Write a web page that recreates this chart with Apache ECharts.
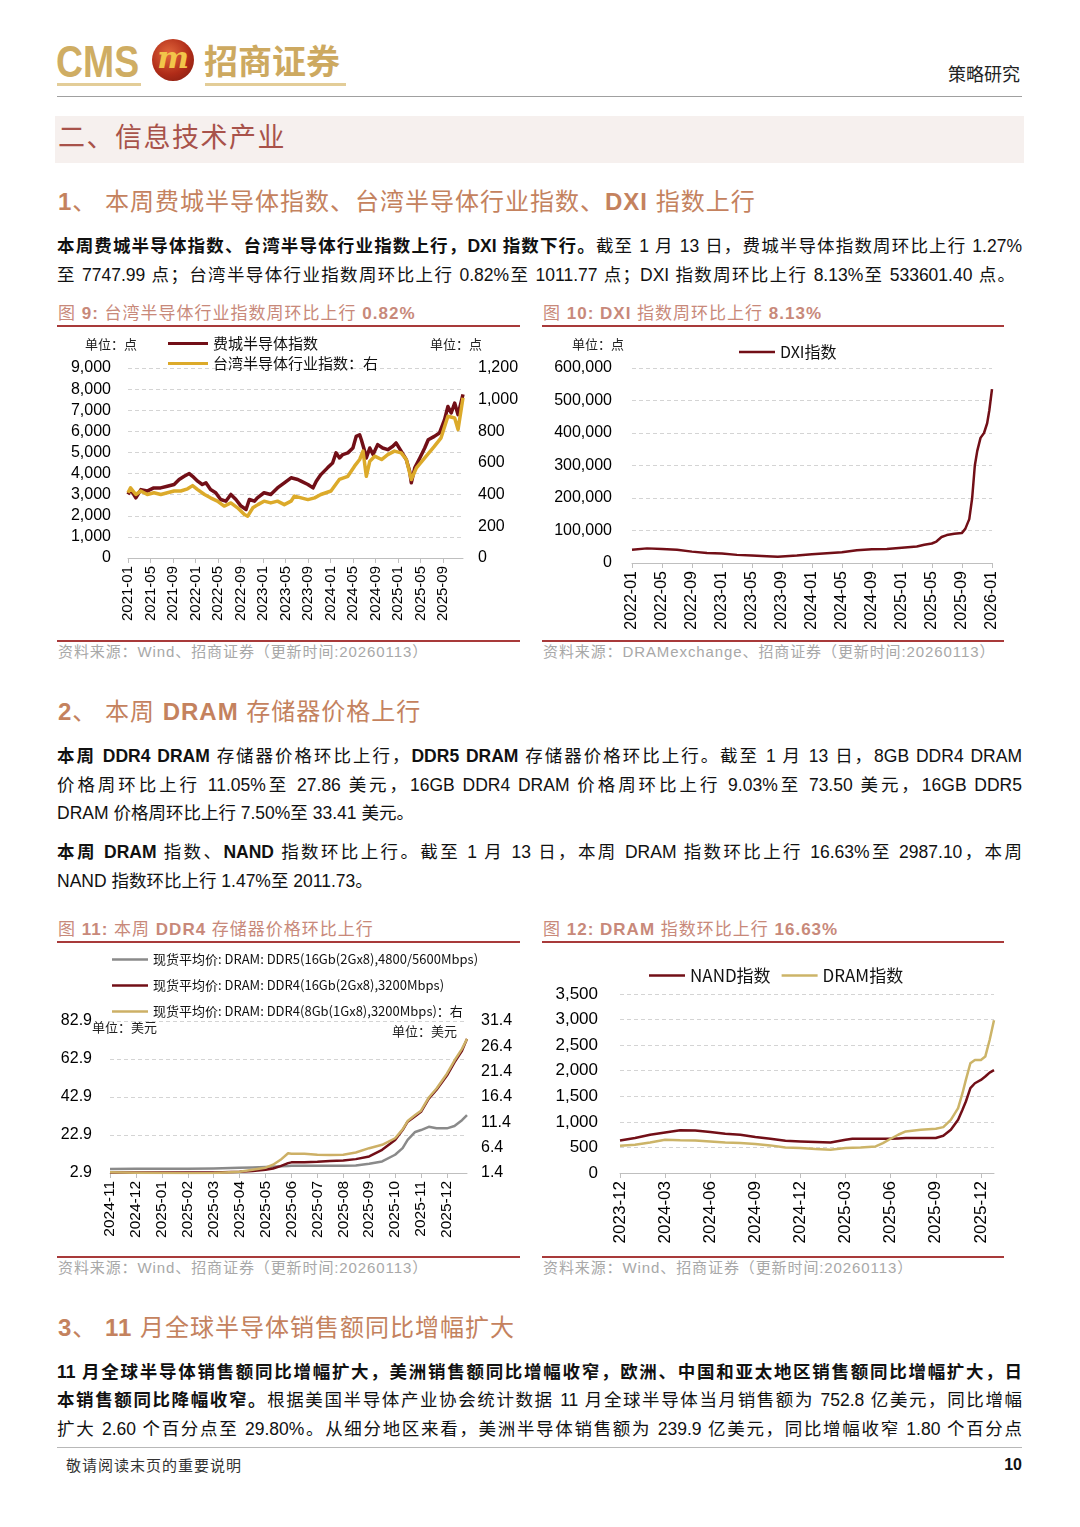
<!DOCTYPE html>
<html><head><meta charset="utf-8">
<script src="https://cdn.jsdelivr.net/npm/echarts@6.0.0/dist/echarts.min.js"></script>
<style>
html,body{margin:0;padding:0;background:#fff;}
body{width:1080px;height:1527px;position:relative;overflow:hidden;font-family:"Liberation Sans","Noto Sans CJK SC",sans-serif;color:#000;}
.abs{position:absolute;white-space:nowrap;}
.ln{position:absolute;left:57px;width:965px;font-size:17.5px;line-height:20px;white-space:nowrap;text-align:justify;text-align-last:justify;color:#111;}
.ln.l{text-align:left;text-align-last:left;width:auto;}
.h{position:absolute;left:58px;font-size:24px;line-height:28px;color:#c4825e;letter-spacing:1px;white-space:nowrap;}
.ft{position:absolute;font-size:17px;line-height:20px;color:#c8897a;letter-spacing:1px;white-space:nowrap;}
.ul{position:absolute;height:2px;background:#a83a3a;}
.src{position:absolute;font-size:15px;line-height:18px;color:#a8a8a8;letter-spacing:0.9px;white-space:nowrap;}
.chart{position:absolute;}
b{font-weight:bold;}
</style></head>
<body>
<!-- header -->
<div class="abs" style="left:56px;top:39px;font:bold 44px/46px 'Liberation Sans';color:#cfad63;transform:scaleX(0.85);transform-origin:0 0;">CMS</div>
<div class="abs" style="left:57px;top:83px;width:84px;height:3px;background:#e3cd98;"></div>
<div class="abs" style="left:152px;top:39px;width:42px;height:42px;border-radius:50%;background:radial-gradient(circle at 40% 35%,#e2673c,#b02c18 55%,#7a1a10);"></div>
<div class="abs" style="left:152px;top:41px;width:42px;text-align:center;font:italic bold 30px/34px 'DejaVu Serif';color:#f2c54a;">m</div>
<div class="abs" style="left:204px;top:40px;font:bold 34px/40px 'Noto Sans CJK SC';color:#cda960;">招商证券</div>
<div class="abs" style="left:205px;top:83px;width:141px;height:3px;background:#e3cd98;"></div>
<div class="abs" style="left:948px;top:62px;font:18px/22px 'Noto Sans CJK SC';color:#222;">策略研究</div>
<div class="abs" style="left:57px;top:96px;width:965px;height:1px;background:#a0a0a0;"></div>

<div class="abs" style="left:55px;top:116px;width:969px;height:47px;background:#f6f0ee;"></div>
<div class="abs" style="left:58px;top:120px;font:27px/32px 'Noto Sans CJK SC';letter-spacing:1.5px;color:#a8524a;">二、信息技术产业</div>

<div class="h" style="top:188px;"><b>1</b>、 本周费城半导体指数、台湾半导体行业指数、<b>DXI</b> 指数上行</div>
<div class="ln" style="top:236px;"><b>本周费城半导体指数、台湾半导体行业指数上行，DXI 指数下行。</b>截至 1 月 13 日，费城半导体指数周环比上行 1.27%</div>
<div class="ln" style="top:265px;width:958px;">至 7747.99 点；台湾半导体行业指数周环比上行 0.82%至 1011.77 点；DXI 指数周环比上行 8.13%至 533601.40 点。</div>

<div class="ft" style="left:58px;top:304px;">图 <b>9:</b> 台湾半导体行业指数周环比上行 <b>0.82%</b></div>
<div class="ft" style="left:543px;top:304px;">图 <b>10:</b> <b>DXI</b> 指数周环比上行 <b>8.13%</b></div>
<div class="ul" style="left:57px;top:325px;width:463px;"></div>
<div class="ul" style="left:542px;top:325px;width:462px;"></div>
<div class="chart" id="c9" style="left:57px;top:330px;width:463px;height:310px;"></div>
<div class="chart" id="c10" style="left:542px;top:330px;width:462px;height:310px;"></div>
<div class="ul" style="left:57px;top:640px;width:463px;height:1.5px;"></div>
<div class="ul" style="left:542px;top:640px;width:462px;height:1.5px;"></div>
<div class="src" style="left:58px;top:643px;">资料来源：Wind、招商证券（更新时间:20260113）</div>
<div class="src" style="left:543px;top:643px;">资料来源：DRAMexchange、招商证券（更新时间:20260113）</div>

<div class="h" style="top:698px;"><b>2</b>、 本周 <b>DRAM</b> 存储器价格上行</div>
<div class="ln" style="top:746px;"><b>本周 DDR4 DRAM</b> 存储器价格环比上行，<b>DDR5 DRAM</b> 存储器价格环比上行。截至 1 月 13 日，8GB DDR4 DRAM</div>
<div class="ln" style="top:775px;">价格周环比上行 11.05%至 27.86 美元，16GB DDR4 DRAM 价格周环比上行 9.03%至 73.50 美元，16GB DDR5</div>
<div class="ln l" style="top:803px;">DRAM 价格周环比上行 7.50%至 33.41 美元。</div>
<div class="ln" style="top:842px;"><b>本周 DRAM</b> 指数、<b>NAND</b> 指数环比上行。截至 1 月 13 日，本周 DRAM 指数环比上行 16.63%至 2987.10，本周</div>
<div class="ln l" style="top:871px;">NAND 指数环比上行 1.47%至 2011.73。</div>

<div class="ft" style="left:58px;top:920px;">图 <b>11:</b> 本周 <b>DDR4</b> 存储器价格环比上行</div>
<div class="ft" style="left:543px;top:920px;">图 <b>12:</b> <b>DRAM</b> 指数环比上行 <b>16.63%</b></div>
<div class="ul" style="left:57px;top:941px;width:463px;"></div>
<div class="ul" style="left:542px;top:941px;width:462px;"></div>
<div class="chart" id="c11" style="left:57px;top:945px;width:463px;height:311px;"></div>
<div class="chart" id="c12" style="left:542px;top:945px;width:462px;height:311px;"></div>
<div class="ul" style="left:57px;top:1256px;width:463px;height:1.5px;"></div>
<div class="ul" style="left:542px;top:1256px;width:462px;height:1.5px;"></div>
<div class="src" style="left:58px;top:1259px;">资料来源：Wind、招商证券（更新时间:20260113）</div>
<div class="src" style="left:543px;top:1259px;">资料来源：Wind、招商证券（更新时间:20260113）</div>

<div class="h" style="top:1314px;"><b>3</b>、 <b>11</b> 月全球半导体销售额同比增幅扩大</div>
<div class="ln" style="top:1362px;"><b>11 月全球半导体销售额同比增幅扩大，美洲销售额同比增幅收窄，欧洲、中国和亚太地区销售额同比增幅扩大，日</b></div>
<div class="ln" style="top:1390px;"><b>本销售额同比降幅收窄。</b>根据美国半导体产业协会统计数据 11 月全球半导体当月销售额为 752.8 亿美元，同比增幅</div>
<div class="ln" style="top:1419px;">扩大 2.60 个百分点至 29.80%。从细分地区来看，美洲半导体销售额为 239.9 亿美元，同比增幅收窄 1.80 个百分点</div>

<div class="abs" style="left:57px;top:1447px;width:965px;height:1px;background:#b8b8b8;"></div>
<div class="abs" style="left:66px;top:1456px;font:15px/18px 'Noto Sans CJK SC';letter-spacing:1px;color:#333;">敬请阅读末页的重要说明</div>
<div class="abs" style="left:990px;top:1456px;width:32px;text-align:right;font:bold 16px/18px 'Liberation Sans';color:#111;">10</div>

<script>
// ---------------- DATA ----------------
// Fig 9: SOX (left axis)
const sox_dates = ['2021-01-01','2021-01-16','2021-02-12','2021-03-10','2021-04-13','2021-05-19','2021-06-25','2021-08-01','2021-09-07','2021-10-04','2021-11-01','2021-11-28','2021-12-16','2022-01-13','2022-02-07','2022-02-25','2022-03-22','2022-04-19','2022-05-16','2022-06-13','2022-07-10','2022-08-07','2022-09-04','2022-10-01','2022-10-19','2022-11-16','2022-12-01','2023-01-07','2023-02-12','2023-03-19','2023-04-25','2023-06-01','2023-07-07','2023-07-25','2023-09-01','2023-09-28','2023-10-16','2023-11-10','2023-12-16','2024-01-13','2024-02-01','2024-02-19','2024-03-07','2024-04-04','2024-05-01','2024-05-19','2024-06-07','2024-06-16','2024-07-04','2024-07-13','2024-08-01','2024-08-19','2024-09-13','2024-10-10','2024-11-07','2024-12-04','2024-12-22','2025-01-19','2025-02-15','2025-03-04','2025-03-13','2025-04-01','2025-04-28','2025-05-25','2025-06-13','2025-07-16','2025-08-13','2025-09-10','2025-09-28','2025-10-16','2025-11-04','2025-11-22','2025-12-19'];
const sox_values = [3010,3240,2850,3240,3170,3320,3320,3400,3480,3720,3870,4000,3870,3640,3480,3560,3240,3090,2770,2690,3010,2770,2460,2300,2770,2690,2850,3090,3010,3320,3560,3800,3720,3640,3480,3320,3640,3950,4270,4500,4980,4740,4900,4980,5210,5760,5840,5600,5060,4740,5210,4900,5370,5210,5130,5290,5450,5060,4660,4110,3560,4270,4740,5210,5600,5760,5920,6550,7180,6870,7340,6790,7748];
// Fig 9: Taiwan semiconductor industry index (right axis)
const tw_dates = ['2021-01-01','2021-01-15','2021-02-12','2021-03-09','2021-04-14','2021-05-20','2021-06-26','2021-08-01','2021-09-07','2021-10-13','2021-11-19','2021-12-16','2022-01-13','2022-02-18','2022-03-22','2022-04-28','2022-06-04','2022-07-10','2022-08-16','2022-09-22','2022-10-10','2022-11-07','2022-12-04','2023-01-07','2023-02-12','2023-03-19','2023-04-25','2023-06-01','2023-06-19','2023-09-01','2023-10-07','2023-11-10','2024-01-04','2024-02-18','2024-04-04','2024-05-10','2024-06-07','2024-06-25','2024-07-13','2024-08-01','2024-08-28','2024-10-04','2024-11-07','2024-12-13','2025-01-19','2025-02-15','2025-03-13','2025-04-10','2025-05-25','2025-07-16','2025-08-22','2025-09-28','2025-11-04','2025-11-22','2025-12-19'];
const tw_values = [412,443,401,423,401,412,401,412,423,423,437,457,432,401,380,359,328,348,317,275,264,317,337,359,348,359,337,359,391,369,380,401,423,496,516,580,622,675,516,610,643,622,653,675,664,622,496,569,632,705,759,895,884,811,1012];
const fig9_left_ticks = [0, 9000, 1000];
const fig9_right_ticks = [0, 1200, 200];

// Fig 10: DXI index
const fig10_dates = ['2022-01-01','2022-03-01','2022-05-01','2022-07-01','2022-09-01','2022-11-01','2023-01-01','2023-03-01','2023-05-01','2023-07-01','2023-08-15','2023-09-15','2023-11-01','2024-01-01','2024-03-01','2024-05-01','2024-07-01','2024-09-01','2024-11-01','2025-01-01','2025-03-01','2025-04-01','2025-05-01','2025-05-20','2025-06-10','2025-07-01','2025-08-01','2025-09-01','2025-09-15','2025-10-01','2025-10-13','2025-10-24','2025-11-03','2025-11-16','2025-11-30','2025-12-13','2025-12-22','2026-01-02'];
const dxi_values = [41000,45000,43000,41000,35000,31000,29000,25000,23000,21000,19000,21000,23000,27000,30000,33000,39000,42000,43000,47000,51000,56000,60000,66000,80000,86000,90000,92000,105000,135000,200000,300000,345000,385000,400000,430000,470000,535000];

// Fig 11: DRAM spot prices (USD)
const fig11_dates = ['2024-11-01','2024-12-01','2025-01-01','2025-02-01','2025-03-01','2025-04-01','2025-04-16','2025-05-01','2025-05-10','2025-05-19','2025-05-28','2025-06-01','2025-06-16','2025-07-01','2025-07-16','2025-08-01','2025-08-16','2025-09-01','2025-09-16','2025-10-01','2025-10-10','2025-10-16','2025-10-25','2025-11-01','2025-11-10','2025-11-19','2025-12-01','2025-12-10','2025-12-19','2025-12-25'];
const ddr5_16gb = [5.0,5.1,5.2,5.2,5.3,5.7,5.8,6.0,6.2,6.4,6.6,6.7,6.7,6.7,6.7,6.7,6.8,7.8,9.0,12.5,16.0,20.3,24.5,25.5,27.2,26.4,26.4,27.6,30.7,33.41];
const ddr4_16gb = [3.2,3.2,3.2,3.1,3.2,3.6,4.0,4.6,5.3,6.5,8.1,8.5,8.6,8.8,9.2,9.5,10.2,11.6,15.1,20.3,25.5,29.9,32.8,35.1,42.0,46.7,54.2,61.1,67.2,73.50];
const ddr4_8gb = [1.53,1.47,1.40,1.33,1.40,1.66,2.05,2.45,3.03,4.00,5.30,5.20,5.20,5.00,4.93,5.00,5.45,6.30,6.96,8.26,10.0,11.66,12.84,13.7,16.3,18.07,21.0,23.6,25.9,27.86];
const fig11_left_ticks = [2.9, 82.9, 20];
const fig11_right_ticks = [1.4, 31.4, 5];

// Fig 12: NAND and DRAM indices
const fig12_dates = ['2023-12-01','2024-01-01','2024-02-01','2024-03-01','2024-04-01','2024-05-01','2024-06-01','2024-07-01','2024-08-01','2024-09-01','2024-10-01','2024-11-01','2024-12-01','2025-01-01','2025-02-01','2025-03-01','2025-03-15','2025-04-01','2025-05-01','2025-05-16','2025-06-01','2025-06-16','2025-07-01','2025-08-01','2025-09-01','2025-09-16','2025-10-01','2025-10-16','2025-10-25','2025-11-01','2025-11-10','2025-11-19','2025-12-01','2025-12-10','2025-12-19','2025-12-28'];
const nand_values = [637,683,748,793,835,832,800,767,748,702,670,631,618,605,598,650,670,670,670,670,670,675,683,683,683,728,845,1040,1235,1398,1658,1755,1820,1886,1964,2012];
const dram_values = [533,553,598,650,640,637,618,598,585,566,540,500,488,468,455,488,495,500,520,585,670,748,813,845,865,897,1040,1268,1560,1820,2146,2210,2210,2276,2600,2987];

// ---------------- HELPERS ----------------
const CJK = 'Noto Sans CJK SC';
const LAT = 'Liberation Sans';
const LINE_ICON = 'path://M0,0L40,0L40,3L0,3Z';
function mpos(d, y0, m0){
  const p = d.split('-').map(Number);
  const dim = new Date(p[0], p[1], 0).getDate();
  return (p[0]-y0)*12 + (p[1]-m0) + (p[2]-1)/dim;
}
function pairs(dates, vals, y0, m0){ return dates.map((d,i)=>[mpos(d,y0,m0), vals[i]]); }
function monthLabel(y0, m0){
  return function(v){
    const r = Math.round(v);
    if (Math.abs(v-r) > 1e-6) return '';
    const t = (m0-1) + r;
    const y = y0 + Math.floor(t/12), m = t%12 + 1;
    return y + '-' + (m<10?'0':'') + m;
  };
}
function xAxisCfg(y0, m0, max, interval, fs){
  return {type:'value', min:0, max:max, interval:interval,
    axisLine:{show:true, onZero:false, lineStyle:{color:'#bfbfbf', width:1}},
    axisTick:{show:true, length:5, lineStyle:{color:'#bfbfbf'}},
    splitLine:{show:false},
    axisLabel:{rotate:90, fontSize:fs, color:'#000', fontFamily:LAT, margin:8, showMaxLabel:false, showMinLabel:true, formatter:monthLabel(y0,m0)}};
}
function yAxisCfg(t, pos, fs, margin, fmt, grid){
  return {type:'value', min:t[0], max:t[1], interval:t[2], position:pos,
    axisLine:{show:false}, axisTick:{show:false},
    splitLine:{show:grid, lineStyle:{type:[4,3], color:'#d4d4d4', width:1}},
    axisLabel:{fontSize:fs, color:'#000', fontFamily:LAT, margin:margin, formatter:fmt}};
}
const comma = v => Math.round(v).toLocaleString('en-US');
function unit(text, left, top){
  return {type:'text', left:left, top:top, style:{text:text, fontSize:13, fill:'#222', fontFamily:CJK}};
}
function line(name, data, color, yIdx, w){
  return {name:name, type:'line', data:data, yAxisIndex:yIdx||0, symbol:'none', showSymbol:false,
    lineStyle:{color:color, width:w||2.5, join:'round'}, itemStyle:{color:color}, emphasis:{disabled:true}, z: 2};
}
function legendItems(names){ return names.map(n=>({name:n, icon:LINE_ICON})); }
const gridBase = {outerBoundsMode:'none', containLabel:false};

// ---------------- FIG 9 ----------------
const c9 = echarts.init(document.getElementById('c9'));
const d9s = pairs(sox_dates, sox_values, 2021, 1), d9t = pairs(tw_dates, tw_values, 2021, 1);
c9.setOption({animation:false,
  grid:Object.assign({left:71, right:57, top:38, bottom:82}, gridBase),
  legend:{orient:'vertical', left:106, top:1, itemWidth:40, itemHeight:14, itemGap:5,
    textStyle:{fontSize:15, color:'#111', fontFamily:CJK}, data:legendItems(['费城半导体指数','台湾半导体行业指数：右'])},
  graphic:[unit('单位：点', 28, 8), unit('单位：点', 373, 8)],
  xAxis:xAxisCfg(2021, 1, d9s[d9s.length-1][0], 4, 15),
  yAxis:[yAxisCfg(fig9_left_ticks,'left',16,17,comma,true), yAxisCfg(fig9_right_ticks,'right',16,15,comma,false)],
  series:[line('费城半导体指数', d9s, '#720f17', 0, 3.5), line('台湾半导体行业指数：右', d9t, '#dcaa2a', 1, 3.5)]
});

// ---------------- FIG 10 ----------------
const c10 = echarts.init(document.getElementById('c10'));
const d10 = pairs(fig10_dates, dxi_values, 2022, 1);
c10.setOption({animation:false,
  grid:Object.assign({left:90, right:12, top:38, bottom:77}, gridBase),
  legend:{left:192, top:9, itemWidth:36, itemHeight:14, textStyle:{fontSize:16, color:'#111', fontFamily:CJK}, data:legendItems(['DXI指数'])},
  graphic:[unit('单位：点', 30, 8)],
  xAxis:xAxisCfg(2022, 1, d10[d10.length-1][0], 4, 16),
  yAxis:yAxisCfg([0,600000,100000],'left',16,20,comma,true),
  series:[line('DXI指数', d10, '#720f17')]
});

// ---------------- FIG 11 ----------------
const c11 = echarts.init(document.getElementById('c11'));
const n11a = '现货平均价: DRAM: DDR5(16Gb(2Gx8),4800/5600Mbps)';
const n11b = '现货平均价: DRAM: DDR4(16Gb(2Gx8),3200Mbps)';
const n11c = '现货平均价: DRAM: DDR4(8Gb(1Gx8),3200Mbps)：右';
const d11a = pairs(fig11_dates, ddr5_16gb, 2024, 11), d11b = pairs(fig11_dates, ddr4_16gb, 2024, 11), d11c = pairs(fig11_dates, ddr4_8gb, 2024, 11);
c11.setOption({animation:false,
  grid:Object.assign({left:53, right:53, top:76, bottom:83}, gridBase),
  legend:{orient:'vertical', left:50, top:3, itemWidth:36, itemHeight:12, itemGap:13,
    textStyle:{fontSize:13, color:'#111', fontFamily:CJK}, data:legendItems([n11a, n11b, n11c])},
  graphic:[unit('单位：美元', 35, 76), unit('单位：美元', 335, 80)],
  xAxis:xAxisCfg(2024, 11, d11a[d11a.length-1][0], 1, 15.5),
  yAxis:[yAxisCfg(fig11_left_ticks,'left',16,18,v=>v.toFixed(1),true), yAxisCfg(fig11_right_ticks,'right',16,14,v=>v.toFixed(1),false)],
  series:[line(n11a, d11a, '#8a8a8a', 0), line(n11b, d11b, '#720f17', 0), line(n11c, d11c, '#cdb066', 1)]
});

// ---------------- FIG 12 ----------------
const c12 = echarts.init(document.getElementById('c12'));
const d12n = pairs(fig12_dates, nand_values, 2023, 12), d12d = pairs(fig12_dates, dram_values, 2023, 12);
c12.setOption({animation:false,
  grid:Object.assign({left:78, right:10, top:49, bottom:83}, gridBase),
  legend:{left:102, top:17, itemWidth:36, itemHeight:14, itemGap:11, textStyle:{fontSize:17, color:'#111', fontFamily:CJK}, data:legendItems(['NAND指数','DRAM指数'])},
  xAxis:xAxisCfg(2023, 12, d12n[d12n.length-1][0], 3, 17),
  yAxis:yAxisCfg([0,3500,500],'left',17,22,comma,true),
  series:[line('NAND指数', d12n, '#720f17'), line('DRAM指数', d12d, '#ccb468')]
});
</script>
</body></html>
